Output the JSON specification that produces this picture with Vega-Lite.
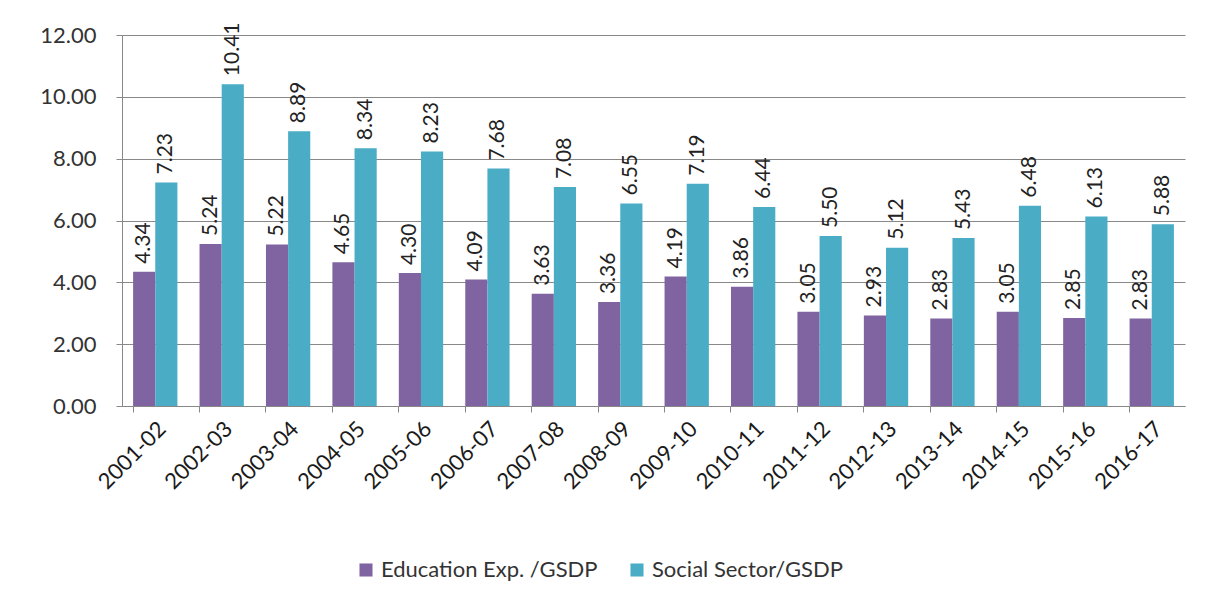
{
  "$schema": "https://vega.github.io/schema/vega-lite/v6.json",
  "autosize": "none",
  "width": 1063,
  "height": 371,
  "padding": {"left": 122, "top": 35, "right": 25, "bottom": 201},
  "background": "white",
  "data": {"values": [
    {"year": "2001-02", "series": "Education Exp. /GSDP", "v": 4.34},
    {"year": "2002-03", "series": "Education Exp. /GSDP", "v": 5.24},
    {"year": "2003-04", "series": "Education Exp. /GSDP", "v": 5.22},
    {"year": "2004-05", "series": "Education Exp. /GSDP", "v": 4.65},
    {"year": "2005-06", "series": "Education Exp. /GSDP", "v": 4.30},
    {"year": "2006-07", "series": "Education Exp. /GSDP", "v": 4.09},
    {"year": "2007-08", "series": "Education Exp. /GSDP", "v": 3.63},
    {"year": "2008-09", "series": "Education Exp. /GSDP", "v": 3.36},
    {"year": "2009-10", "series": "Education Exp. /GSDP", "v": 4.19},
    {"year": "2010-11", "series": "Education Exp. /GSDP", "v": 3.86},
    {"year": "2011-12", "series": "Education Exp. /GSDP", "v": 3.05},
    {"year": "2012-13", "series": "Education Exp. /GSDP", "v": 2.93},
    {"year": "2013-14", "series": "Education Exp. /GSDP", "v": 2.83},
    {"year": "2014-15", "series": "Education Exp. /GSDP", "v": 3.05},
    {"year": "2015-16", "series": "Education Exp. /GSDP", "v": 2.85},
    {"year": "2016-17", "series": "Education Exp. /GSDP", "v": 2.83},
    {"year": "2001-02", "series": "Social Sector/GSDP", "v": 7.23},
    {"year": "2002-03", "series": "Social Sector/GSDP", "v": 10.41},
    {"year": "2003-04", "series": "Social Sector/GSDP", "v": 8.89},
    {"year": "2004-05", "series": "Social Sector/GSDP", "v": 8.34},
    {"year": "2005-06", "series": "Social Sector/GSDP", "v": 8.23},
    {"year": "2006-07", "series": "Social Sector/GSDP", "v": 7.68},
    {"year": "2007-08", "series": "Social Sector/GSDP", "v": 7.08},
    {"year": "2008-09", "series": "Social Sector/GSDP", "v": 6.55},
    {"year": "2009-10", "series": "Social Sector/GSDP", "v": 7.19},
    {"year": "2010-11", "series": "Social Sector/GSDP", "v": 6.44},
    {"year": "2011-12", "series": "Social Sector/GSDP", "v": 5.50},
    {"year": "2012-13", "series": "Social Sector/GSDP", "v": 5.12},
    {"year": "2013-14", "series": "Social Sector/GSDP", "v": 5.43},
    {"year": "2014-15", "series": "Social Sector/GSDP", "v": 6.48},
    {"year": "2015-16", "series": "Social Sector/GSDP", "v": 6.13},
    {"year": "2016-17", "series": "Social Sector/GSDP", "v": 5.88}
  ]},
  "encoding": {
    "x": {"field": "year", "type": "nominal", "sort": null,
      "scale": {"paddingInner": 0.333, "paddingOuter": 0.167},
      "axis": {"title": null, "labelAngle": -45, "labelAlign": "right", "labelBaseline": "top",
        "labelFontSize": 22, "labelFont": "Lato", "labelColor": "#1a1a1a", "labelPadding": 6,
        "bandPosition": 0, "tickSize": 6, "tickColor": "#888", "domainColor": "#888", "grid": false}},
    "xOffset": {"field": "series", "type": "nominal", "scale": {"paddingInner": 0, "paddingOuter": 0}},
    "y": {"field": "v", "type": "quantitative",
      "scale": {"domain": [0, 12], "nice": false},
      "axis": {"title": null, "values": [0, 2, 4, 6, 8, 10, 12], "format": ".2f",
        "labelFontSize": 22, "labelFont": "Lato", "labelColor": "#333", "labelPadding": 20,
        "tickSize": 6, "tickColor": "#888", "domainColor": "#888", "gridColor": "#888", "gridWidth": 1}}
  },
  "layer": [
    {"mark": {"type": "bar"},
      "encoding": {"color": {"field": "series", "type": "nominal",
        "scale": {"range": ["#8064A2", "#4BACC6"]},
        "legend": {"title": null, "orient": "none", "legendX": 233, "legendY": 524, "direction": "horizontal",
          "symbolType": "square", "symbolSize": 170, "symbolStrokeWidth": 0, "labelFontSize": 22, "labelFont": "Lato",
          "labelColor": "#333", "columnPadding": 28, "labelLimit": 400}}}},
    {"mark": {"type": "text", "angle": -90, "align": "left", "baseline": "middle", "dx": 8,
        "fontSize": 21, "font": "Lato", "color": "#222"},
      "encoding": {"text": {"field": "v", "type": "quantitative", "format": ".2f"}}}
  ],
  "config": {"view": {"stroke": null}}
}
